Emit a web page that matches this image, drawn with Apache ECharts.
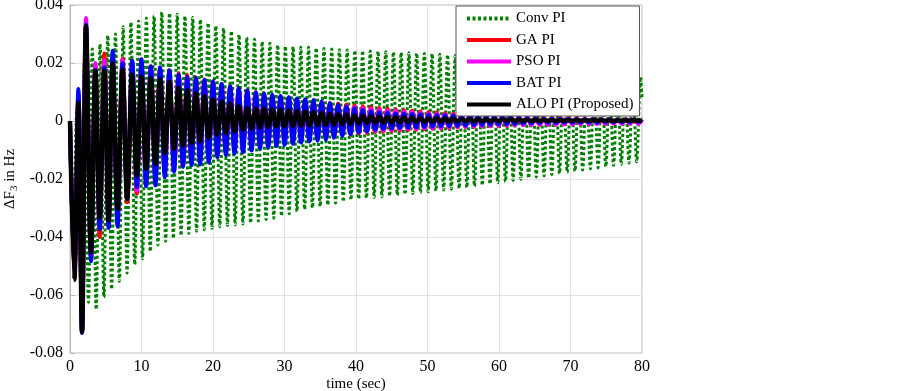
<!DOCTYPE html>
<html>
<head>
<meta charset="utf-8">
<script src="https://cdn.jsdelivr.net/npm/echarts@6/dist/echarts.min.js"></script>
<style>
  html, body { margin: 0; padding: 0; background: #fff; }
  #freqchart { width: 900px; height: 391px; }
</style>
</head>
<body>
<div id="freqchart"></div>
<script>
// extreme points (peaks / troughs), time in sec
var tCtrl = [0, 0.6, 1.17, 1.68, 2.24, 2.94, 3.55, 4.15, 4.8, 5.4,
  5.97, 6.65, 7.35, 8.0, 8.7, 9.35, 10.0, 10.65, 11.3, 11.95,
  12.6, 13.25, 13.9, 14.55, 15.2, 15.8, 16.4, 17.0, 17.6, 18.2,
  18.8, 19.4, 20.0, 20.6, 21.2, 21.8, 22.4, 23.0, 23.6, 24.2,
  24.8, 25.4, 26.0, 26.58, 27.15, 27.72, 28.3, 28.88, 29.45, 30.02,
  30.6, 31.18, 31.75, 32.32, 32.9, 33.48, 34.05, 34.62, 35.2, 35.78,
  36.35, 36.92, 37.5, 38.08, 38.65, 39.22, 39.8, 40.38, 40.95, 41.52,
  42.1, 42.68, 43.25, 43.82, 44.4, 44.98, 45.55, 46.12, 46.7, 47.28,
  47.85, 48.42, 49.0, 49.58, 50.15, 50.72, 51.3, 51.88, 52.45, 53.02,
  53.6, 54.18, 54.75, 55.32, 55.9, 56.48, 57.05, 57.62, 58.2, 58.78,
  59.35, 59.92, 60.5, 61.08, 61.65, 62.22, 62.8, 63.38, 63.95, 64.52,
  65.1, 65.68, 66.25, 66.82, 67.4, 67.98, 68.55, 69.12, 69.7, 70.28,
  70.85, 71.42, 72.0, 72.58, 73.15, 73.72, 74.3, 74.88, 75.45, 76.02,
  76.6, 77.18, 77.75, 78.32, 78.9, 79.48, 80.0];

var gaPI = [0, -0.054, 0.009, -0.0725, 0.033, -0.047, 0.019, -0.04, 0.0233, -0.035,
  0.021, -0.033, 0.0215, -0.028, 0.0205, -0.025, 0.0195, -0.0215, 0.019, -0.0195,
  0.0182, -0.018, 0.0175, -0.0165, 0.0165, -0.0155, 0.0158, -0.0145, 0.015, -0.0135,
  0.0142, -0.0125, 0.0135, -0.0115, 0.0127, -0.0107, 0.012, -0.01, 0.0112, -0.0094,
  0.0105, -0.0088, 0.0098, -0.0082, 0.0092, -0.0078, 0.0088, -0.0074, 0.0084, -0.0071,
  0.008, -0.0068, 0.0076, -0.0065, 0.0072, -0.0062, 0.0069, -0.0059, 0.0066, -0.0056,
  0.0063, -0.0053, 0.006, -0.005, 0.0057, -0.0047, 0.0054, -0.0044, 0.0051, -0.0041,
  0.0048, -0.0039, 0.0045, -0.0037, 0.0042, -0.0035, 0.004, -0.0033, 0.0037, -0.0031,
  0.0035, -0.003, 0.0033, -0.0028, 0.0031, -0.0027, 0.0029, -0.0025, 0.0027, -0.0024,
  0.0025, -0.0022, 0.0023, -0.0021, 0.0022, -0.002, 0.002, -0.0019, 0.0019, -0.0018,
  0.0018, -0.0017, 0.0017, -0.0016, 0.0016, -0.0015, 0.0015, -0.0014, 0.0014, -0.0013,
  0.0013, -0.0012, 0.0012, -0.0012, 0.0011, -0.0011, 0.0011, -0.001, 0.001, -0.001,
  0.001, -0.0009, 0.0009, -0.0009, 0.0009, -0.0008, 0.0008, -0.0008, 0.0008, -0.0008,
  0.0007, -0.0007, 0.0007, -0.0007, 0.0007, -0.0007, 0.0006];

var psoPI = [0, -0.054, 0.0095, -0.073, 0.0355, -0.047, 0.02, -0.036, 0.021, -0.035,
  0.022, -0.033, 0.021, -0.027, 0.02, -0.024, 0.0195, -0.021, 0.0185, -0.019,
  0.0178, -0.0175, 0.017, -0.016, 0.0158, -0.0148, 0.015, -0.0138, 0.0142, -0.013,
  0.0133, -0.0118, 0.0125, -0.011, 0.0118, -0.0102, 0.011, -0.0095, 0.0102, -0.009,
  0.0095, -0.0082, 0.0088, -0.0075, 0.0082, -0.0071, 0.0078, -0.0068, 0.0075, -0.0065,
  0.0072, -0.0062, 0.0069, -0.006, 0.0066, -0.0057, 0.0063, -0.0054, 0.006, -0.0051,
  0.0057, -0.0048, 0.0054, -0.0045, 0.0051, -0.0042, 0.0048, -0.004, 0.0045, -0.0037,
  0.0042, -0.0035, 0.004, -0.0033, 0.0037, -0.0031, 0.0035, -0.003, 0.0033, -0.0028,
  0.0031, -0.0027, 0.0029, -0.0026, 0.0027, -0.0025, 0.0025, -0.0024, 0.0023, -0.0023,
  0.0021, -0.0022, 0.002, -0.0021, 0.0018, -0.002, 0.0017, -0.0019, 0.0016, -0.0018,
  0.0015, -0.0017, 0.0014, -0.0016, 0.0013, -0.0015, 0.0012, -0.0015, 0.0011, -0.0014,
  0.001, -0.0014, 0.0009, -0.0013, 0.0009, -0.0013, 0.0008, -0.0012, 0.0008, -0.0012,
  0.0007, -0.0011, 0.0007, -0.0011, 0.0006, -0.0011, 0.0006, -0.001, 0.0006, -0.001,
  0.0005, -0.001, 0.0005, -0.001, 0.0005, -0.001, 0.0004];

var batPI = [0, -0.053, 0.011, -0.0731, 0.0333, -0.0483, 0.0177, -0.0373, 0.0185, -0.0369,
  0.0242, -0.0363, 0.02, -0.0258, 0.0208, -0.0228, 0.0213, -0.0225, 0.0188, -0.0222,
  0.0185, -0.0195, 0.0175, -0.0175, 0.016, -0.0158, 0.0152, -0.0153, 0.0148, -0.015,
  0.0142, -0.0143, 0.0137, -0.0125, 0.0128, -0.0118, 0.012, -0.0112, 0.0113, -0.0108,
  0.0105, -0.0102, 0.0098, -0.0095, 0.0094, -0.009, 0.009, -0.0086, 0.0086, -0.0082,
  0.0082, -0.0078, 0.0078, -0.0074, 0.0075, -0.0071, 0.0072, -0.0068, 0.0068, -0.0064,
  0.0062, -0.0058, 0.0056, -0.0052, 0.005, -0.0046, 0.0044, -0.004, 0.0038, -0.0035,
  0.0034, -0.0031, 0.003, -0.0028, 0.0028, -0.0026, 0.0026, -0.0024, 0.0025, -0.0023,
  0.0024, -0.0022, 0.0023, -0.0021, 0.0022, -0.002, 0.0021, -0.0019, 0.002, -0.0018,
  0.0019, -0.0017, 0.0018, -0.0016, 0.0017, -0.0015, 0.0016, -0.0014, 0.0015, -0.0013,
  0.0014, -0.0012, 0.0013, -0.0011, 0.0012, -0.001, 0.0011, -0.0009, 0.001, -0.0008,
  0.001, -0.0008, 0.0009, -0.0007, 0.0009, -0.0007, 0.0008, -0.0006, 0.0008, -0.0006,
  0.0007, -0.0005, 0.0007, -0.0005, 0.0006, -0.0005, 0.0006, -0.0004, 0.0006, -0.0004,
  0.0005, -0.0004, 0.0005, -0.0004, 0.0005, -0.0003, 0.0004];

var aloPI = [0, -0.0548, 0.0063, -0.0728, 0.0327, -0.0453, 0.0173, -0.0333, 0.0173, -0.0343,
  0.0198, -0.0303, 0.0177, -0.0269, 0.016, -0.0189, 0.0153, -0.0165, 0.0148, -0.0148,
  0.0143, -0.011, 0.0135, -0.0095, 0.0115, -0.0085, 0.0105, -0.0078, 0.0095, -0.007,
  0.0085, -0.0058, 0.0075, -0.0048, 0.0068, -0.0042, 0.006, -0.0036, 0.0052, -0.003,
  0.0045, -0.0027, 0.0042, -0.0022, 0.0042, -0.002, 0.004, -0.0019, 0.0038, -0.0018,
  0.0036, -0.0017, 0.0034, -0.0016, 0.0032, -0.0015, 0.003, -0.0014, 0.0028, -0.0013,
  0.0026, -0.0012, 0.0024, -0.0011, 0.0022, -0.001, 0.002, -0.0008, 0.0018, -0.0007,
  0.0016, -0.0006, 0.0015, -0.0005, 0.0014, -0.0005, 0.0013, -0.0004, 0.0012, -0.0004,
  0.0011, -0.0003, 0.001, -0.0003, 0.0009, -0.0002, 0.0009, -0.0002, 0.0008, -0.0002,
  0.0008, -0.0001, 0.0007, -0.0001, 0.0007, -0.0001, 0.0006, 0, 0.0006, 0,
  0.0005, 0, 0.0005, 0.0001, 0.0005, 0.0001, 0.0004, 0.0001, 0.0004, 0.0001,
  0.0004, 0.0001, 0.0004, 0.0001, 0.0003, 0.0001, 0.0003, 0.0001, 0.0003, 0.0001,
  0.0003, 0.0001, 0.0003, 0.0001, 0.0003, 0.0001, 0.0003, 0.0001, 0.0002, 0.0001,
  0.0002, 0.0001, 0.0002, 0.0001, 0.0002, 0.0001, 0.0002];

// conventional PI swings on its own (slightly faster) rhythm
var tConv = [0, 0.42, 0.96, 1.5, 2.04, 2.58, 3.12, 3.66, 4.2, 4.74,
  5.28, 5.82, 6.36, 6.9, 7.44, 7.98, 8.52, 9.06, 9.6, 10.14,
  10.68, 11.22, 11.76, 12.3, 12.84, 13.38, 13.92, 14.46, 15.0, 15.54,
  16.08, 16.62, 17.16, 17.7, 18.24, 18.78, 19.32, 19.86, 20.4, 20.94,
  21.48, 22.02, 22.56, 23.1, 23.64, 24.18, 24.72, 25.26, 25.8, 26.34,
  26.88, 27.42, 27.96, 28.5, 29.04, 29.58, 30.12, 30.66, 31.2, 31.74,
  32.28, 32.82, 33.36, 33.9, 34.44, 34.98, 35.52, 36.06, 36.6, 37.14,
  37.68, 38.22, 38.76, 39.3, 39.84, 40.38, 40.92, 41.46, 42.0, 42.54,
  43.08, 43.62, 44.16, 44.7, 45.24, 45.78, 46.32, 46.86, 47.4, 47.94,
  48.48, 49.02, 49.56, 50.1, 50.64, 51.18, 51.72, 52.26, 52.8, 53.34,
  53.88, 54.42, 54.96, 55.5, 56.04, 56.58, 57.12, 57.66, 58.2, 58.74,
  59.28, 59.82, 60.36, 60.9, 61.44, 61.98, 62.52, 63.06, 63.6, 64.14,
  64.68, 65.22, 65.76, 66.3, 66.84, 67.38, 67.92, 68.46, 69.0, 69.54,
  70.08, 70.62, 71.16, 71.7, 72.24, 72.78, 73.32, 73.86, 74.4, 74.94,
  75.48, 76.02, 76.56, 77.1, 77.64, 78.18, 78.72, 79.26, 79.8, 80];

var convPI = [0, -0.035, 0.004, -0.055, 0.021, -0.0625, 0.0248, -0.065, 0.0265, -0.0608,
  0.0295, -0.058, 0.03, -0.0553, 0.0325, -0.0525, 0.034, -0.0495, 0.0345, -0.0475,
  0.0355, -0.045, 0.0362, -0.0428, 0.0375, -0.0415, 0.0372, -0.0405, 0.0368, -0.0395,
  0.0362, -0.0388, 0.0357, -0.038, 0.035, -0.0375, 0.0338, -0.037, 0.0328, -0.0365,
  0.032, -0.036, 0.031, -0.0358, 0.0298, -0.0355, 0.0288, -0.0352, 0.0282, -0.0345,
  0.0274, -0.034, 0.0268, -0.0335, 0.0262, -0.0328, 0.0258, -0.032, 0.0256, -0.0312,
  0.0254, -0.0305, 0.0254, -0.03, 0.0252, -0.0295, 0.025, -0.029, 0.0248, -0.0283,
  0.0246, -0.0278, 0.0245, -0.0272, 0.0243, -0.0269, 0.0242, -0.0266, 0.0241, -0.0264,
  0.024, -0.0261, 0.0239, -0.0259, 0.0238, -0.0256, 0.0236, -0.0253, 0.0235, -0.025,
  0.0234, -0.0247, 0.0233, -0.0244, 0.0232, -0.0241, 0.023, -0.0238, 0.0228, -0.0235,
  0.0226, -0.0232, 0.0224, -0.0229, 0.0222, -0.0225, 0.022, -0.0221, 0.0217, -0.0217,
  0.0214, -0.0213, 0.0211, -0.0209, 0.0208, -0.0205, 0.0205, -0.0201, 0.0202, -0.0197,
  0.0199, -0.0193, 0.0196, -0.0189, 0.0193, -0.0185, 0.0189, -0.0181, 0.0185, -0.0177,
  0.0181, -0.0173, 0.0177, -0.0169, 0.0173, -0.0165, 0.0169, -0.0161, 0.0166, -0.0157,
  0.0163, -0.0153, 0.016, -0.0149, 0.0157, -0.0145, 0.0154, -0.0141, 0.0151, 0.008];

var seriesNames = ['Conv PI', 'GA PI', 'PSO PI', 'BAT PI', 'ALO PI (Proposed)'];

function draw_freqchart() {
  var dom = document.getElementById('freqchart');
  var myChart = echarts.init(dom, null, { renderer: 'canvas' });
  var serif = 'Liberation Serif';

  function pairs(ts, vs) {
    return ts.map(function (t, i) { return [t, vs[i]]; });
  }

  function mkLine(name, ts, vs, color, width, type) {
    return {
      name: name,
      type: 'line',
      data: pairs(ts, vs),
      symbol: 'none',
      smooth: 0.35,
      clip: true,
      lineStyle: { color: color, width: width, type: type || 'solid', cap: 'butt' },
      itemStyle: { color: color },
      emphasis: { disabled: true }
    };
  }

  var option = {
    animation: false,
    backgroundColor: '#fff',
    grid: {
      left: 70, right: 258, top: 5, bottom: 38,
      containLabel: false, outerBoundsMode: 'none',
      show: true, borderColor: '#b8b8b8', borderWidth: 1
    },
    legend: {
      orient: 'vertical',
      left: 456, top: 6,
      itemWidth: 44, itemHeight: 14, itemGap: 6.5,
      padding: [5, 6, 4, 9],
      backgroundColor: '#fff',
      borderColor: '#555', borderWidth: 1,
      itemStyle: { opacity: 0, color: 'rgba(0,0,0,0)', borderWidth: 0 },
      lineStyle: { width: 4 },
      textStyle: { fontFamily: serif, fontSize: 15, color: '#000' },
      data: seriesNames
    },
    xAxis: {
      type: 'value', min: 0, max: 80, interval: 10,
      name: 'time (sec)', nameLocation: 'middle', nameGap: 24, nameMoveOverlap: false,
      nameTextStyle: { fontFamily: serif, fontSize: 15, color: '#000' },
      axisLine: { lineStyle: { color: '#b8b8b8' } },
      axisTick: { inside: true, length: 5, lineStyle: { color: '#b8b8b8' } },
      axisLabel: { fontFamily: serif, fontSize: 16, color: '#000', margin: 6 },
      splitLine: { show: true, lineStyle: { color: '#e2e2e2', width: 1 } }
    },
    yAxis: {
      type: 'value', min: -0.08, max: 0.04, interval: 0.02,
      name: '{a|ΔF}{s|3}{a| in Hz}', nameLocation: 'middle', nameGap: 50, nameMoveOverlap: false,
      nameTextStyle: {
        rich: {
          a: { fontFamily: serif, fontSize: 15, color: '#000' },
          s: { fontFamily: serif, fontSize: 11, color: '#000', verticalAlign: 'bottom', padding: [8, 0, 0, 0] }
        }
      },
      axisLine: { lineStyle: { color: '#b8b8b8' } },
      axisTick: { inside: true, length: 5, lineStyle: { color: '#b8b8b8' } },
      axisLabel: {
        fontFamily: serif, fontSize: 16, color: '#000', margin: 7,
        formatter: function (v) { return Math.abs(v) < 1e-9 ? '0' : v.toFixed(2); }
      },
      splitLine: { show: true, lineStyle: { color: '#e2e2e2', width: 1 } }
    },
    series: [
      mkLine(seriesNames[0], tConv, convPI, '#008000', 3, [3, 2.5]),
      mkLine(seriesNames[1], tCtrl, gaPI, '#ff0000', 4),
      mkLine(seriesNames[2], tCtrl, psoPI, '#ff00ff', 4),
      mkLine(seriesNames[3], tCtrl, batPI, '#0000ff', 4),
      mkLine(seriesNames[4], tCtrl, aloPI, '#000000', 4.5)
    ]
  };

  myChart.setOption(option);
  window.onresize = myChart.resize;
}

draw_freqchart();
</script>
</body>
</html>
